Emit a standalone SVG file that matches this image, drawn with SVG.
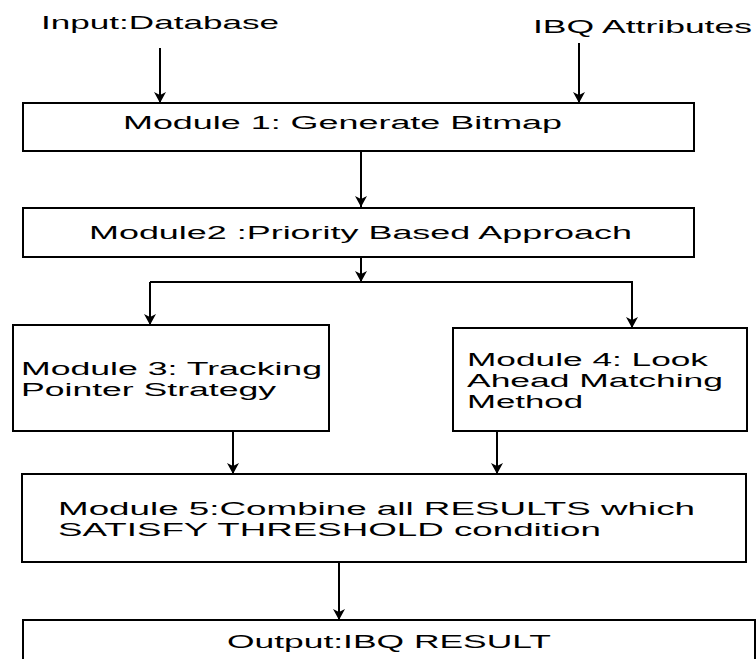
<svg xmlns="http://www.w3.org/2000/svg" width="756" height="659" viewBox="0 0 756 659">
<style>
.box{fill:#fff;stroke:#000;stroke-width:2}
.t{font-family:"Liberation Sans",Arial,sans-serif;font-size:18px;fill:#000}
.lbl{font-family:"Liberation Sans",Arial,sans-serif;font-size:19px;fill:#000}
.c{stroke:#000;stroke-width:2;fill:none}
</style>
<defs>
<marker id="ah" markerUnits="userSpaceOnUse" markerWidth="14" markerHeight="12" viewBox="0 0 14 12" refX="12" refY="6" orient="auto">
<path d="M1,0 L12,6 L1,12 L4,6 Z" fill="#000"/>
</marker>
</defs>
<rect width="756" height="659" fill="#fff"/>
<g id="input-label"><text class="lbl" x="41" y="29" textLength="238" lengthAdjust="spacingAndGlyphs">Input:Database</text></g>
<g id="ibq-label"><text class="lbl" x="533" y="33" textLength="219" lengthAdjust="spacingAndGlyphs">IBQ Attributes</text></g>
<g id="module1"><rect class="box" x="23" y="103" width="671" height="48"/><text class="t" x="123" y="129" textLength="439" lengthAdjust="spacingAndGlyphs">Module 1: Generate Bitmap</text></g>
<g id="module2"><rect class="box" x="23" y="208" width="671" height="49"/><text class="t" x="89" y="239" textLength="543" lengthAdjust="spacingAndGlyphs">Module2 :Priority Based Approach</text></g>
<g id="module3"><rect class="box" x="13" y="325" width="316" height="106"/><text class="t" x="21" y="375" textLength="301" lengthAdjust="spacingAndGlyphs">Module 3: Tracking</text><text class="t" x="21" y="396" textLength="255" lengthAdjust="spacingAndGlyphs">Pointer Strategy</text></g>
<g id="module4"><rect class="box" x="453" y="328" width="294" height="103"/><text class="t" x="467" y="366" textLength="241" lengthAdjust="spacingAndGlyphs">Module 4: Look</text><text class="t" x="467" y="387" textLength="256" lengthAdjust="spacingAndGlyphs">Ahead Matching</text><text class="t" x="467" y="408" textLength="116" lengthAdjust="spacingAndGlyphs">Method</text></g>
<g id="module5"><rect class="box" x="22" y="474" width="724" height="88"/><text class="t" x="58" y="515" textLength="637" lengthAdjust="spacingAndGlyphs">Module 5:Combine all RESULTS which</text><text class="t" x="58" y="536" textLength="543" lengthAdjust="spacingAndGlyphs">SATISFY THRESHOLD condition</text></g>
<g id="output"><rect class="box" x="23" y="620" width="732" height="60"/><text class="t" x="227" y="648" textLength="324" lengthAdjust="spacingAndGlyphs">Output:IBQ RESULT</text></g>
<g id="connectors">
<line class="c" x1="160" y1="48" x2="160" y2="103" marker-end="url(#ah)"/>
<line class="c" x1="579" y1="43" x2="579" y2="103" marker-end="url(#ah)"/>
<line class="c" x1="361" y1="151" x2="361" y2="207" marker-end="url(#ah)"/>
<line class="c" x1="361" y1="257" x2="361" y2="282" marker-end="url(#ah)"/>
<line class="c" x1="150" y1="282" x2="633" y2="282"/>
<line class="c" x1="150" y1="282" x2="150" y2="325" marker-end="url(#ah)"/>
<line class="c" x1="632" y1="282" x2="632" y2="328" marker-end="url(#ah)"/>
<line class="c" x1="233" y1="431" x2="233" y2="474" marker-end="url(#ah)"/>
<line class="c" x1="497" y1="431" x2="497" y2="474" marker-end="url(#ah)"/>
<line class="c" x1="339" y1="562" x2="339" y2="620" marker-end="url(#ah)"/>
</g>
</svg>
